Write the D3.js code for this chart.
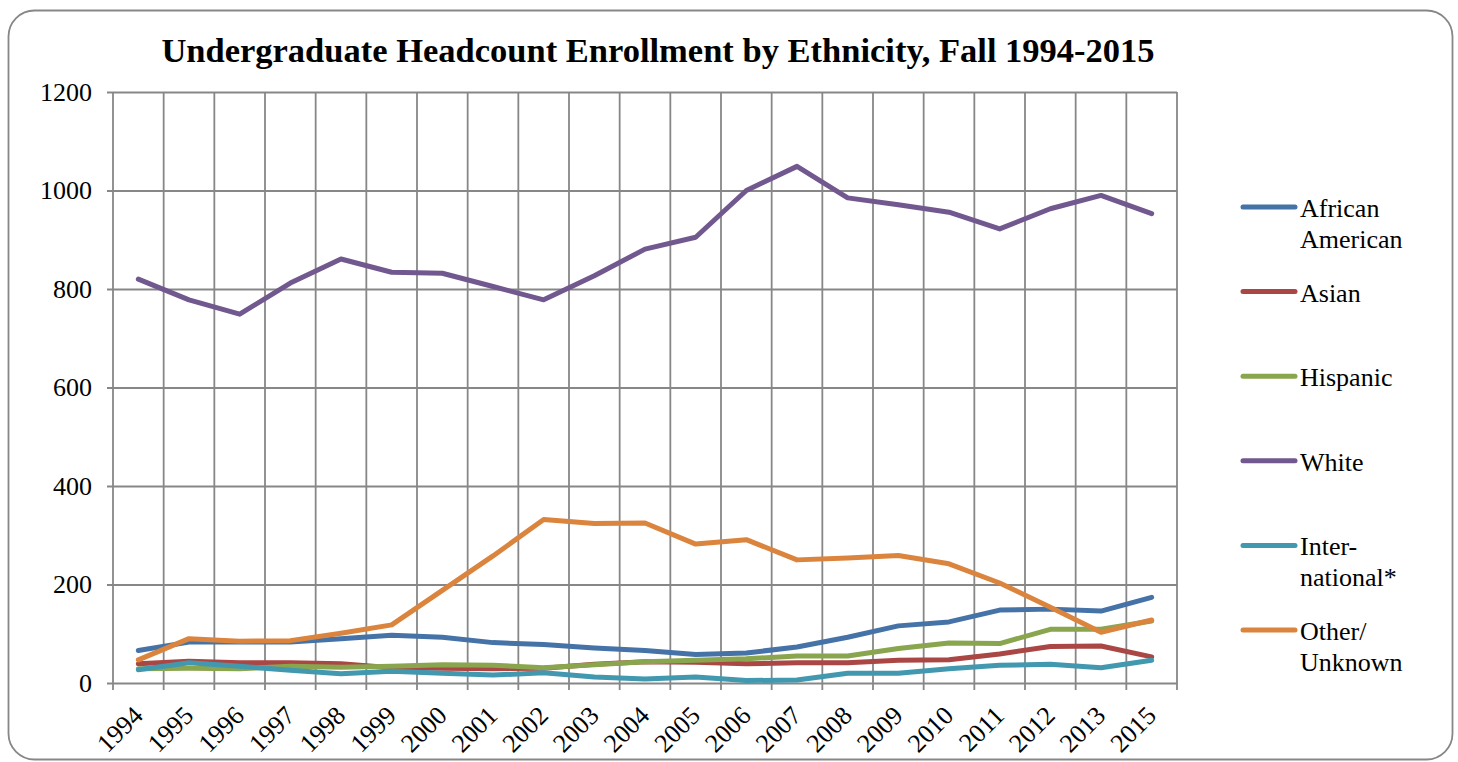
<!DOCTYPE html>
<html>
<head>
<meta charset="utf-8">
<script src="https://cdn.jsdelivr.net/npm/d3@7"></script>
<style>
  body { margin: 0; background: #fff; }
</style>
</head>
<body>
<div id="chart"></div>
<script>
const years = ["1994","1995","1996","1997","1998","1999","2000","2001","2002","2003","2004",
  "2005","2006","2007","2008","2009","2010","2011","2012","2013","2015"]
const africanAmerican = [66,83,83,83,90,97,93,82,78,71,66,58,61,73,93,116,124,148,150,146,174]
const asian = [39,44,41,41,39,31,30,29,30,38,43,42,39,41,41,46,47,59,74,75,53]
const hispanic = [29,30,29,34,32,34,37,36,31,37,43,46,49,55,55,70,81,80,109,109,126]
const white = [820,778,749,812,861,834,832,805,778,827,881,905,1000,1049,985,971,956,922,963,990,953]
const international = [27,41,34,26,19,24,20,16,21,12,8,12,5,6,20,20,29,36,38,31,46]
const otherUnknown = [47,90,85,86,101,118,188,258,332,324,325,282,291,250,254,259,242,203,154,103,128]
const yTicks = [0,200,400,600,800,1000,1200]

const seriesNames = [["African", "American"], ["Asian"], ["Hispanic"], ["White"], ["Inter-", "national*"], ["Other/", "Unknown"]]
const seriesValues = [africanAmerican, asian, hispanic, white, international, otherUnknown]
const colors = ['#4572a7', '#aa4643', '#89a54e', '#71588f', '#4198af', '#db843d']

let width = 1458
let height = 762
let plot = {left: 113, right: 1177, top: 92, bottom: 683}
let gridColor = '#878787'
let serif = 'Liberation Serif'

let svg = d3.select("#chart").append("svg")
  .attr("width", width)
  .attr("height", height)

// outer chart frame
svg.append("rect")
  .attr("x", 8.5).attr("y", 10.5)
  .attr("width", 1444).attr("height", 749)
  .attr("rx", 26).attr("ry", 26)
  .attr("fill", "white")
  .attr("stroke", gridColor)
  .attr("stroke-width", 1.8)

svg.append("text")
  .attr("x", 658).attr("y", 62)
  .attr("text-anchor", "middle")
  .style("font-family", serif)
  .style("font-size", "34.5px")
  .style("font-weight", "bold")
  .text("Undergraduate Headcount Enrollment by Ethnicity, Fall 1994-2015")

let x = d3.scaleBand().domain(years).range([plot.left, plot.right])
let y = d3.scaleLinear().domain([0, 1200]).range([plot.bottom, plot.top])

// horizontal grid + y axis
let yAxis = svg.append("g")
  .attr("transform", "translate(" + plot.left + ",0)")
  .call(d3.axisLeft(y).tickValues(yTicks).tickFormat(d3.format("d"))
    .tickSizeOuter(0).tickSizeInner(-(plot.right - plot.left)).tickPadding(21))
yAxis.select(".domain").remove()
yAxis.selectAll(".tick line")
  .attr("x1", -6)
  .attr("stroke", gridColor).attr("stroke-width", 1.8)
yAxis.selectAll(".tick text")
  .attr("fill", "black")
  .style("font-family", serif)
  .style("font-size", "26px")
  .attr("dy", "0.31em")

// vertical grid at category boundaries
let bounds = years.map(d => x(d)).concat([plot.right])
svg.append("g").selectAll("line")
  .data(bounds)
  .enter().append("line")
  .attr("x1", d => d).attr("x2", d => d)
  .attr("y1", plot.top).attr("y2", plot.bottom + 7)
  .attr("stroke", gridColor).attr("stroke-width", 1.8)

// x labels, rotated
svg.append("g").selectAll("text")
  .data(years)
  .enter().append("text")
  .attr("transform", d => "translate(" + (x(d) + x.bandwidth() / 2 + 6) + "," + 717 + ") rotate(-45)")
  .attr("text-anchor", "end")
  .style("font-family", serif)
  .style("font-size", "26px")
  .text(d => d)

// series lines
let line = d3.line()
  .x((d, i) => x(years[i]) + x.bandwidth() / 2)
  .y(d => y(d))

svg.append("g").selectAll("path")
  .data(seriesValues)
  .enter().append("path")
  .attr("d", d => line(d))
  .attr("fill", "none")
  .attr("stroke", (d, i) => colors[i])
  .attr("stroke-width", 5)
  .attr("stroke-linejoin", "round")
  .attr("stroke-linecap", "round")

// legend
let legend = svg.append("g").selectAll("g")
  .data(seriesNames)
  .enter().append("g")
  .attr("transform", (d, i) => "translate(0," + (207 + i * 84.6) + ")")

legend.append("line")
  .attr("x1", 1243).attr("x2", 1295)
  .attr("y1", 0).attr("y2", 0)
  .attr("stroke", (d, i) => colors[i])
  .attr("stroke-width", 5)
  .attr("stroke-linecap", "round")

legend.append("text")
  .attr("x", 1300).attr("y", 10)
  .style("font-family", serif)
  .style("font-size", "26px")
  .selectAll("tspan")
  .data(d => d)
  .enter().append("tspan")
  .attr("x", 1300)
  .attr("dy", (d, i) => i === 0 ? 0 : 31)
  .text(d => d)
</script>
</body>
</html>
